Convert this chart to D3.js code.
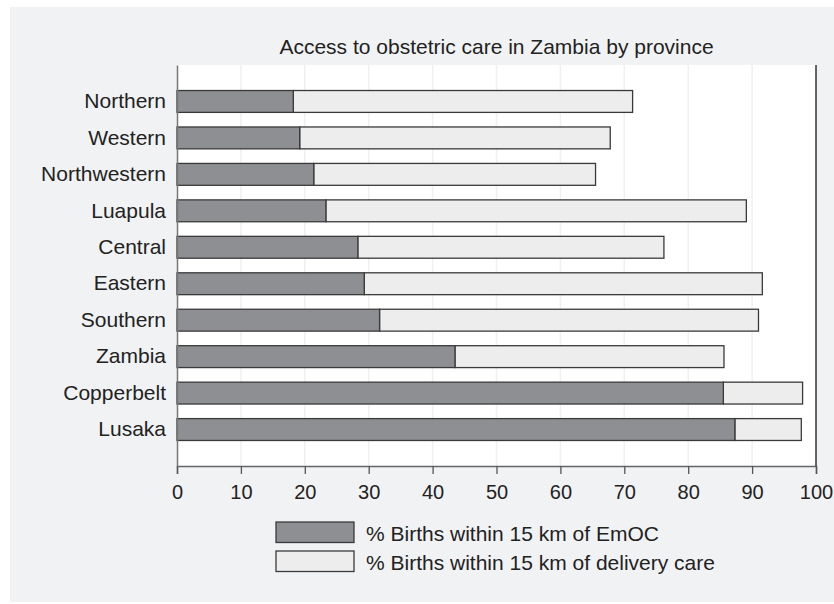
<!DOCTYPE html>
<html>
<head>
<meta charset="utf-8">
<script src="https://cdn.jsdelivr.net/npm/d3@7"></script>
<style>
  body { margin: 0; background: #fff; }
  text { font-family: "Liberation Sans", Arial, Helvetica, sans-serif; fill: #222; }
</style>
</head>
<body>
<svg id="chart" width="834" height="604"></svg>
<script>
// values
let provinces = ["Northern", "Western", "Northwestern", "Luapula", "Central",
  "Eastern", "Southern", "Zambia", "Copperbelt", "Lusaka"];
let emoc = [18.2, 19.2, 21.4, 23.3, 28.3, 29.3, 31.7, 43.5, 85.5, 87.3];
let delivery = [71.3, 67.8, 65.5, 89.1, 76.2, 91.6, 91.0, 85.6, 97.9, 97.7];
let xTicks = [0, 10, 20, 30, 40, 50, 60, 70, 80, 90, 100];
let legendLabels = ["% Births within 15 km of EmOC", "% Births within 15 km of delivery care"];

let darkFill = "#8e8f93";
let lightFill = "#ededed";
let barStroke = "#3a3a3a";

let svg = d3.select("#chart");

let plotLeft = 177, plotRight = 816, plotTop = 65, plotBottom = 466;

// grey page background
svg.append("rect")
  .attr("x", 10).attr("y", 7)
  .attr("width", 824).attr("height", 595)
  .attr("fill", "#f1f2f4");

// white plot area
svg.append("rect")
  .attr("x", plotLeft).attr("y", plotTop)
  .attr("width", plotRight - plotLeft).attr("height", plotBottom - plotTop)
  .attr("fill", "#fff");

let xScale = d3.scaleLinear().domain([0, 100]).range([plotLeft, plotRight]);
let yScale = d3.scaleBand()
  .domain(provinces)
  .range([plotTop, plotBottom])
  .paddingInner(0.4)
  .paddingOuter(0.7);

// faint vertical grid
svg.append("g")
  .selectAll("line")
  .data(xTicks.slice(1, -1))
  .enter()
  .append("line")
  .attr("x1", d => xScale(d)).attr("x2", d => xScale(d))
  .attr("y1", plotTop).attr("y2", plotBottom)
  .attr("stroke", "#f0f0f2")
  .attr("stroke-width", 1.5);

// light bars (delivery care) from end of EmOC to total
svg.append("g")
  .selectAll("rect")
  .data(provinces)
  .enter()
  .append("rect")
  .attr("x", (d, i) => xScale(emoc[i]))
  .attr("y", d => yScale(d))
  .attr("width", (d, i) => xScale(delivery[i]) - xScale(emoc[i]))
  .attr("height", yScale.bandwidth())
  .attr("fill", lightFill)
  .attr("stroke", barStroke)
  .attr("stroke-width", 1.3);

// dark bars (EmOC)
svg.append("g")
  .selectAll("rect")
  .data(provinces)
  .enter()
  .append("rect")
  .attr("x", xScale(0))
  .attr("y", d => yScale(d))
  .attr("width", (d, i) => xScale(emoc[i]) - xScale(0))
  .attr("height", yScale.bandwidth())
  .attr("fill", darkFill)
  .attr("stroke", barStroke)
  .attr("stroke-width", 1.3);

// x axis
let xAxis = svg.append("g")
  .attr("transform", "translate(0," + plotBottom + ")")
  .call(d3.axisBottom(xScale).tickValues(xTicks).tickSize(8).tickPadding(11).tickFormat(d3.format("d")));
xAxis.select(".domain").attr("stroke", "#666").attr("stroke-width", 1.5);
xAxis.selectAll(".tick line").attr("stroke", "#555").attr("stroke-width", 1.3);
xAxis.selectAll(".tick text")
  .style("font-family", "'Liberation Sans', Arial, sans-serif")
  .style("font-size", "20px")
  .attr("fill", "#222");

// y axis
let yAxis = svg.append("g")
  .attr("transform", "translate(" + plotLeft + ",0)")
  .call(d3.axisLeft(yScale).tickSize(0).tickPadding(11).tickSizeOuter(0));
yAxis.select(".domain").attr("stroke", "#777").attr("stroke-width", 1.5);
yAxis.selectAll(".tick text")
  .style("font-family", "'Liberation Sans', Arial, sans-serif")
  .style("font-size", "21px")
  .attr("fill", "#222");

// right border
svg.append("line")
  .attr("x1", plotRight).attr("x2", plotRight)
  .attr("y1", plotTop).attr("y2", plotBottom)
  .attr("stroke", "#333")
  .attr("stroke-width", 1.5);

// title
svg.append("text")
  .attr("x", (plotLeft + plotRight) / 2)
  .attr("y", 54)
  .attr("text-anchor", "middle")
  .style("font-size", "21px")
  .text("Access to obstetric care in Zambia by province");

// legend
let legendFills = [darkFill, lightFill];
let legend = svg.append("g")
  .selectAll("g")
  .data(legendLabels)
  .enter()
  .append("g")
  .attr("transform", (d, i) => "translate(276," + (522 + i * 29) + ")");

legend.append("rect")
  .attr("width", 78)
  .attr("height", 20.5)
  .attr("fill", (d, i) => legendFills[i])
  .attr("stroke", barStroke)
  .attr("stroke-width", 1.3);

legend.append("text")
  .attr("x", 90)
  .attr("y", 18.5)
  .style("font-size", "21px")
  .text(d => d);
</script>
</body>
</html>
